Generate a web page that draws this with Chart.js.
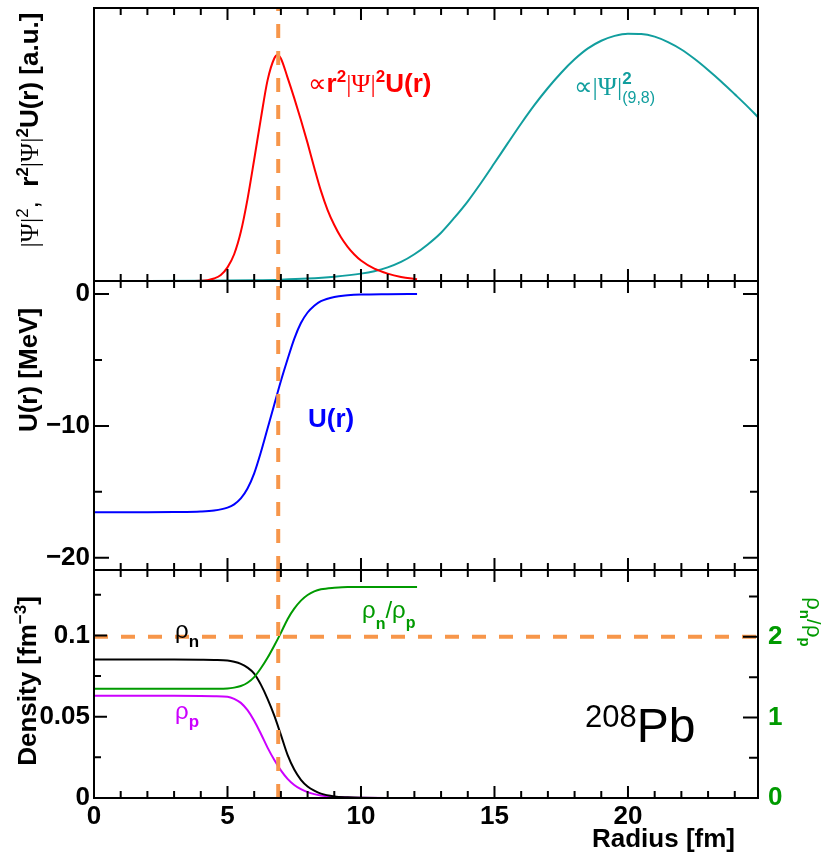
<!DOCTYPE html>
<html>
<head>
<meta charset="utf-8">
<script src="https://cdn.jsdelivr.net/npm/chart.js@4.4.0/dist/chart.umd.min.js"></script>
<style>
body { margin: 0; background: #fff; }
#page { position: relative; width: 821px; height: 857px; overflow: hidden; }
.panel { position: absolute; left: 0; width: 821px; }
</style>
</head>
<body>
<div id="page">
  <div class="panel" style="top:0;height:282px"><canvas id="wave"></canvas></div>
  <div class="panel" style="top:281px;height:290px"><canvas id="pot"></canvas></div>
  <div class="panel" style="top:570px;height:287px"><canvas id="dens"></canvas></div>
</div>
<script>
// axis ranges
const RADIUS_RANGE = [0, 24.87];
const WAVE_RANGE = [0, 1];
const POT_RANGE = [-20.93, 0.99];
const DEN_RANGE = [0, 0.1402];
const RATIO_RANGE = [0, 2.83];

// reference lines
const SURFACE_R = 6.9;
const RATIO_REF = 2;

// tick labels
const radiusTicks = [0, 5, 10, 15, 20];
const potTicks = [0, -10, -20];
const denTicks = [0, 0.05, 0.1];
const ratioTicks = [0, 1, 2];

// top panel: r^2 |Psi|^2 U(r)
const rWave = [0, 1, 2, 3, 3.5, 4, 4.25, 4.5, 4.75, 5, 5.25, 5.5, 5.75, 6, 6.25, 6.5, 6.75, 6.87, 7, 7.25, 7.5, 7.75, 8, 8.25, 8.5, 8.75, 9, 9.25, 9.5, 9.75, 10, 10.5, 11, 11.5, 12.1];
const r2PsiU = [0, 0, 0, 0, 0, 0.001, 0.003, 0.009, 0.022, 0.05, 0.098, 0.18, 0.30, 0.445, 0.595, 0.735, 0.815, 0.828, 0.815, 0.745, 0.67, 0.59, 0.505, 0.415, 0.33, 0.26, 0.205, 0.16, 0.125, 0.097, 0.075, 0.045, 0.027, 0.015, 0.006];

// top panel: |Psi|^2 (9,8)
const rPsi = [0, 2, 4, 6, 7, 8, 9, 10, 10.5, 11, 11.5, 12, 12.5, 13, 13.5, 14, 14.5, 15, 15.5, 16, 16.5, 17, 17.5, 18, 18.5, 19, 19.5, 20, 20.5, 21, 21.5, 22, 22.5, 23, 23.5, 24, 24.5, 24.87];
const psiSq = [0, 0, 0.001, 0.003, 0.005, 0.009, 0.016, 0.027, 0.036, 0.05, 0.07, 0.098, 0.134, 0.177, 0.232, 0.292, 0.36, 0.432, 0.505, 0.577, 0.645, 0.707, 0.763, 0.812, 0.852, 0.88, 0.898, 0.906, 0.905, 0.895, 0.875, 0.848, 0.813, 0.773, 0.73, 0.684, 0.637, 0.60];

// middle panel: U(r) [MeV]
const rPot = [0, 2, 3, 4, 4.5, 5, 5.25, 5.5, 5.75, 6, 6.25, 6.5, 6.75, 7, 7.25, 7.5, 7.75, 8, 8.25, 8.5, 9, 9.5, 10, 11, 12.1];
const uPot = [-16.55, -16.55, -16.54, -16.5, -16.42, -16.2, -15.95, -15.5, -14.75, -13.6, -12.0, -10.2, -8.4, -6.6, -4.95, -3.4, -2.2, -1.4, -0.88, -0.54, -0.22, -0.1, -0.04, -0.01, 0];

// bottom panel: densities [fm^-3] and ratio
const rDen = [0, 3, 4, 4.5, 5, 5.25, 5.5, 5.75, 6, 6.25, 6.5, 6.75, 7, 7.25, 7.5, 7.75, 8, 8.25, 8.5, 9, 9.5, 10, 11, 12.1];
const rhoN = [0.0851, 0.0851, 0.0850, 0.0849, 0.0846, 0.0838, 0.0825, 0.0802, 0.0765, 0.0697, 0.061, 0.0508, 0.0388, 0.0265, 0.0175, 0.0112, 0.0071, 0.0045, 0.0027, 0.001, 0.0004, 0.0001, 0, 0];
const rhoP = [0.0628, 0.0628, 0.0627, 0.0626, 0.0623, 0.061, 0.0585, 0.054, 0.0475, 0.0395, 0.031, 0.0235, 0.017, 0.0118, 0.008, 0.0054, 0.0036, 0.0024, 0.0016, 0.0007, 0.0003, 0.0001, 0, 0];
const ratioNP = [1.355, 1.355, 1.355, 1.357, 1.36, 1.37, 1.39, 1.43, 1.50, 1.61, 1.74, 1.89, 2.05, 2.22, 2.35, 2.45, 2.52, 2.565, 2.59, 2.61, 2.62, 2.62, 2.62, 2.62];

const ORANGE = '#f7964a';
const GREEN = '#009a00';
const TEAL = '#119e9e';
const MAGENTA = '#cc00ff';

function font(size, bold, serif) {
    return (bold ? 'bold ' : '') + size + 'px ' + (serif ? '"Liberation Serif", serif' : '"Liberation Sans", Arial, "DejaVu Sans", sans-serif');
}

function xy(xs, ys) {
    return xs.map((x, i) => ({ x, y: ys[i] }));
}

function curve(xs, ys, color, axis) {
    return {
        data: xy(xs, ys),
        borderColor: color,
        borderWidth: 2,
        cubicInterpolationMode: 'monotone',
        yAxisID: axis || 'y'
    };
}

function dashed(points, axis) {
    return {
        data: points,
        borderColor: ORANGE,
        borderWidth: 4,
        borderDash: [14, 13],
        yAxisID: axis || 'y'
    };
}

function drawRich(ctx, item, offY) {
    let cursor = 0, start = 0;
    const pos = item.parts.map(p => {
        ctx.font = p.font;
        const w = ctx.measureText(p.t).width;
        const x = p.under ? start : cursor;
        if (!p.under) start = cursor;
        cursor = Math.max(cursor, x + w);
        return x;
    });
    const x0 = item.align === 'center' ? -cursor / 2 : item.align === 'right' ? -cursor : 0;
    ctx.save();
    ctx.translate(item.x, item.y - offY);
    ctx.rotate(item.rot || 0);
    ctx.textBaseline = 'alphabetic';
    ctx.textAlign = 'left';
    item.parts.forEach((p, i) => {
        ctx.font = p.font;
        ctx.fillStyle = p.color || item.color || '#000';
        ctx.fillText(p.t, x0 + pos[i], p.dy || 0);
    });
    ctx.restore();
}

// ROOT-like frame with inward ticks, plus text labels
const rootFrame = {
    id: 'rootFrame',
    afterDraw(chart, args, o) {
        const { ctx, chartArea: a, scales } = chart;
        ctx.save();
        ctx.strokeStyle = '#000';
        ctx.lineWidth = 2;
        ctx.beginPath();
        (o.ticks || []).forEach(t => {
            const s = scales[t.scale];
            const first = Math.ceil(s.min / t.step - 1e-9);
            const last = Math.floor(s.max / t.step + 1e-9);
            for (let k = first; k <= last; k++) {
                const len = k % t.every === 0 ? t.major : t.minor;
                const p = s.getPixelForValue(k * t.step);
                t.sides.forEach(side => {
                    if (side === 'top') { ctx.moveTo(p, a.top); ctx.lineTo(p, a.top + len); }
                    if (side === 'bottom') { ctx.moveTo(p, a.bottom); ctx.lineTo(p, a.bottom - len); }
                    if (side === 'left') { ctx.moveTo(a.left, p); ctx.lineTo(a.left + len, p); }
                    if (side === 'right') { ctx.moveTo(a.right, p); ctx.lineTo(a.right - len, p); }
                });
            }
        });
        ctx.stroke();
        ctx.strokeRect(a.left, a.top, a.right - a.left, a.bottom - a.top);
        ctx.restore();
        (o.texts || []).forEach(item => drawRich(ctx, item, o.offsetY || 0));
    }
};

const xTicks = { scale: 'x', step: 1, every: 5, major: 12, minor: 7, sides: ['top', 'bottom'] };

function fixedTicks(list) {
    return scale => { scale.ticks = list.map(v => ({ value: v })); };
}

function fixWidth(w) {
    return scale => {
        scale.width = w;
        scale.paddingTop = 0;
        scale.paddingBottom = 0;
    };
}

function baseOptions(padding, scales, frame) {
    return {
        responsive: true,
        maintainAspectRatio: false,
        animation: false,
        events: [],
        layout: { padding, autoPadding: false },
        elements: { point: { radius: 0 } },
        plugins: { legend: { display: false }, tooltip: { enabled: false }, rootFrame: frame },
        scales
    };
}

const labelFont = { family: '"Liberation Sans", Arial, sans-serif', size: 26, weight: 'bold' };
const xScale = { type: 'linear', min: RADIUS_RANGE[0], max: RADIUS_RANGE[1], display: false };

new Chart(document.getElementById('wave'), {
    type: 'line',
    plugins: [rootFrame],
    data: {
        datasets: [
            dashed([{ x: SURFACE_R, y: WAVE_RANGE[0] }, { x: SURFACE_R, y: WAVE_RANGE[1] }]),
            curve(rWave, r2PsiU, '#ff0000'),
            curve(rPsi, psiSq, TEAL)
        ]
    },
    options: baseOptions({ top: 8, bottom: 1, left: 94, right: 63 }, {
        x: xScale,
        y: { type: 'linear', min: WAVE_RANGE[0], max: WAVE_RANGE[1], display: false }
    }, {
        ticks: [xTicks],
        offsetY: 0,
        texts: [
            { x: 38, y: 130, rot: -Math.PI / 2, align: 'center', color: '#000', parts: [
                { t: '|\u03A8|', font: font(26, false, true) },
                { t: '2', font: font(17, false), dy: -10 },
                { t: ',  ', font: font(26, false) },
                { t: 'r', font: font(26, true) },
                { t: '2', font: font(17, true), dy: -10 },
                { t: '|\u03A8|', font: font(26, false, true) },
                { t: '2', font: font(17, true), dy: -10 },
                { t: 'U(r) [a.u.]', font: font(26, true) }
            ] },
            { x: 308, y: 92, color: '#ff0000', parts: [
                { t: '\u221D', font: font(26, false) },
                { t: 'r', font: font(26, true) },
                { t: '2', font: font(17, true), dy: -10 },
                { t: '|\u03A8|', font: font(26, false, true) },
                { t: '2', font: font(17, true), dy: -10 },
                { t: 'U(r)', font: font(26, true) }
            ] },
            { x: 574, y: 95, color: TEAL, parts: [
                { t: '\u221D', font: font(26, false) },
                { t: '|\u03A8|', font: font(26, false, true) },
                { t: '2', font: font(17, true), dy: -11 },
                { t: '(9,8)', font: font(16, false), dy: 8, under: true }
            ] }
        ]
    })
});

new Chart(document.getElementById('pot'), {
    type: 'line',
    plugins: [rootFrame],
    data: {
        datasets: [
            dashed([{ x: SURFACE_R, y: POT_RANGE[0] }, { x: SURFACE_R, y: POT_RANGE[1] }]),
            curve(rPot, uPot, '#0000ff')
        ]
    },
    options: baseOptions({ top: 0, bottom: 1, left: 0, right: 63 }, {
        x: xScale,
        y: {
            type: 'linear', position: 'left', min: POT_RANGE[0], max: POT_RANGE[1],
            grid: { display: false, drawTicks: false },
            border: { display: false },
            afterBuildTicks: fixedTicks(potTicks),
            afterFit: fixWidth(94),
            ticks: {
                autoSkip: false, padding: 4, color: '#000', font: labelFont,
                callback: v => v < 0 ? '\u2212' + Math.abs(v) : String(v)
            }
        }
    }, {
        ticks: [xTicks, { scale: 'y', step: 5, every: 2, major: 15, minor: 8, sides: ['left', 'right'] }],
        offsetY: 281,
        texts: [
            { x: 37, y: 370, rot: -Math.PI / 2, align: 'center', color: '#000', parts: [
                { t: 'U(r) [MeV]', font: font(26, true) }
            ] },
            { x: 308, y: 427, color: '#0000ff', parts: [{ t: 'U(r)', font: font(26, true) }] }
        ]
    })
});

new Chart(document.getElementById('dens'), {
    type: 'line',
    plugins: [rootFrame],
    data: {
        datasets: [
            dashed([{ x: SURFACE_R, y: DEN_RANGE[0] }, { x: SURFACE_R, y: DEN_RANGE[1] }]),
            dashed([{ x: RADIUS_RANGE[0], y: RATIO_REF }, { x: RADIUS_RANGE[1], y: RATIO_REF }], 'yR'),
            curve(rDen, ratioNP, GREEN, 'yR'),
            curve(rDen, rhoN, '#000000'),
            curve(rDen, rhoP, MAGENTA)
        ]
    },
    options: baseOptions({ top: 0, bottom: 0, left: 0, right: 0 }, {
        x: {
            type: 'linear', position: 'bottom', min: RADIUS_RANGE[0], max: RADIUS_RANGE[1],
            grid: { display: false, drawTicks: false },
            border: { display: false },
            afterBuildTicks: fixedTicks(radiusTicks),
            afterFit: scale => { scale.height = 59; scale.paddingLeft = 0; scale.paddingRight = 0; },
            ticks: {
                autoSkip: false, maxRotation: 0, minRotation: 0, padding: 3, color: '#000', font: labelFont,
                callback: v => String(v)
            }
        },
        y: {
            type: 'linear', position: 'left', min: DEN_RANGE[0], max: DEN_RANGE[1],
            grid: { display: false, drawTicks: false },
            border: { display: false },
            afterBuildTicks: fixedTicks(denTicks),
            afterFit: fixWidth(94),
            ticks: { autoSkip: false, padding: 4, color: '#000', font: labelFont, callback: v => String(v) }
        },
        yR: {
            type: 'linear', position: 'right', min: RATIO_RANGE[0], max: RATIO_RANGE[1],
            grid: { display: false, drawTicks: false },
            border: { display: false },
            afterBuildTicks: fixedTicks(ratioTicks),
            afterFit: fixWidth(63),
            ticks: { autoSkip: false, padding: 10, color: GREEN, font: labelFont, callback: v => String(v) }
        }
    }, {
        ticks: [
            xTicks,
            { scale: 'y', step: 0.025, every: 2, major: 13, minor: 7, sides: ['left'] },
            { scale: 'yR', step: 0.5, every: 2, major: 15, minor: 9, sides: ['right'] }
        ],
        offsetY: 570,
        texts: [
            { x: 36, y: 681, rot: -Math.PI / 2, align: 'center', color: '#000', parts: [
                { t: 'Density [fm', font: font(26, true) },
                { t: '\u22123', font: font(17, true), dy: -10 },
                { t: ']', font: font(26, true) }
            ] },
            { x: 807, y: 622, rot: Math.PI / 2, align: 'center', color: GREEN, parts: [
                { t: '\u03C1', font: font(22, false) },
                { t: 'n', font: font(15, true), dy: 7 },
                { t: '/', font: font(22, false) },
                { t: '\u03C1', font: font(22, false) },
                { t: 'p', font: font(15, true), dy: 7 }
            ] },
            { x: 735, y: 847, align: 'right', color: '#000', parts: [{ t: 'Radius [fm]', font: font(26, true) }] },
            { x: 175, y: 638, color: '#000', parts: [
                { t: '\u03C1', font: font(24, false) },
                { t: 'n', font: font(17, true), dy: 9 }
            ] },
            { x: 175, y: 719, color: MAGENTA, parts: [
                { t: '\u03C1', font: font(24, false) },
                { t: 'p', font: font(17, true), dy: 8 }
            ] },
            { x: 362, y: 618, color: GREEN, parts: [
                { t: '\u03C1', font: font(24, false) },
                { t: 'n', font: font(16, true), dy: 11 },
                { t: '/', font: font(24, false) },
                { t: '\u03C1', font: font(24, false) },
                { t: 'p', font: font(16, true), dy: 10 }
            ] },
            { x: 585, y: 742, color: '#000', parts: [
                { t: '208', font: font(31, false), dy: -15 },
                { t: 'Pb', font: font(48, false) }
            ] }
        ]
    })
});
</script>
</body>
</html>
